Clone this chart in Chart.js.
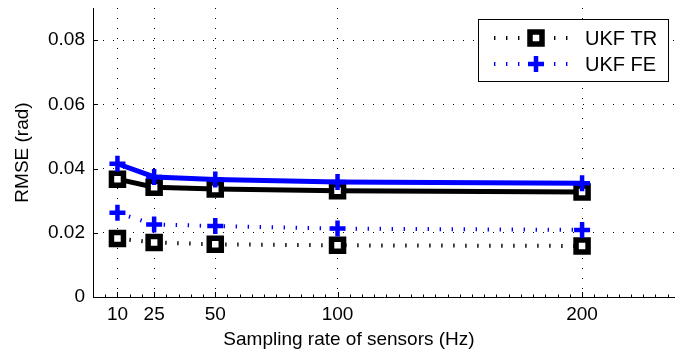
<!DOCTYPE html>
<html>
<head>
<meta charset="utf-8">
<script src="https://cdn.jsdelivr.net/npm/chart.js@4/dist/chart.umd.min.js"></script>
<style>
html,body{margin:0;padding:0;background:#fff;}
#wrap{width:675px;height:360px;}
</style>
</head>
<body>
<div id="wrap"><canvas id="c" width="675" height="360"></canvas></div>
<script>
const rates = [10, 25, 50, 100, 200];
const xTickLabels = [10, 25, 50, 100, 200];
const yTickValues = [0, 0.02, 0.04, 0.06, 0.08];
const ukfTrSolid = [0.0367, 0.0342, 0.0336, 0.0331, 0.0327];
const ukfFeSolid = [0.0415, 0.0374, 0.0366, 0.0358, 0.0354];
const ukfTrDotted = [0.0182, 0.0170, 0.0164, 0.0161, 0.0159];
const ukfFeDotted = [0.0262, 0.0226, 0.0221, 0.0213, 0.0209];
const seriesNames = ['UKF TR', 'UKF FE'];

const FONT = 'Liberation Sans, Arial, sans-serif';
const FS_TICK = 19;
const FS_TITLE = 19;
const FS_LEG = 20;

function pts(vals){ return rates.map((x,i)=>({x:x, y:vals[i]})); }

const dotDash = [1.4, 10.6];

const datasets = [
  {label:'UKF FE solid', data:pts(ukfFeSolid), borderColor:'#0000ff', backgroundColor:'#0000ff', borderWidth:5,
   pointStyle:'cross', pointRadius:8, pointBorderWidth:4.5, pointBorderColor:'#0000ff', tension:0},
  {label:seriesNames[1], data:pts(ukfFeDotted), borderColor:'#0000ff', backgroundColor:'#0000ff', borderWidth:4,
   borderDash:dotDash, borderCapStyle:'butt', pointStyle:'cross', pointRadius:8, pointBorderWidth:4.5, pointBorderColor:'#0000ff', tension:0},
  {label:'UKF TR solid', data:pts(ukfTrSolid), borderColor:'#000', backgroundColor:'#fff', borderWidth:5,
   pointStyle:'rect', pointRadius:8.5, pointBorderWidth:5.5, pointBorderColor:'#000', pointBackgroundColor:'#fff', tension:0},
  {label:seriesNames[0], data:pts(ukfTrDotted), borderColor:'#000', backgroundColor:'#fff', borderWidth:4,
   borderDash:dotDash, borderCapStyle:'butt', pointStyle:'rect', pointRadius:8.5, pointBorderWidth:5.5, pointBorderColor:'#000', pointBackgroundColor:'#fff', tension:0}
];

const tickPlugin = {
  id:'ticksIn',
  beforeDatasetsDraw(chart){
    const ctx = chart.ctx, xs = chart.scales.x, ys = chart.scales.y;
    const ca = chart.chartArea;
    ctx.save();
    ctx.setLineDash([]);
    ctx.strokeStyle = '#000'; ctx.lineWidth = 1;
    ctx.beginPath();
    ctx.moveTo(ca.left + 0.5, ca.top); ctx.lineTo(ca.left + 0.5, ca.bottom + 0.5);
    ctx.lineTo(ca.right, ca.bottom + 0.5);
    for (let v = 0; v <= xs.max; v += 5) {
      const px = Math.round(xs.getPixelForValue(v)) + 0.5;
      const len = xTickLabels.includes(v) ? 5 : 2.5;
      ctx.moveTo(px, ca.bottom); ctx.lineTo(px, ca.bottom - len);
    }
    yTickValues.forEach(v => {
      const py = Math.round(ys.getPixelForValue(v)) + 0.5;
      ctx.moveTo(ca.left, py); ctx.lineTo(ca.left + 5, py);
    });
    ctx.stroke();
    ctx.restore();
  },
  afterDraw(chart){
    const ctx = chart.ctx;
    ctx.save();
    ctx.fillStyle = '#000';
    ctx.font = FS_TITLE + 'px ' + FONT;
    ctx.textAlign = 'center'; ctx.textBaseline = 'middle';
    ctx.fillText('Sampling rate of sensors (Hz)', 349, 340);
    const bx = 478.5, by = 19.5, bw = 190, bh = 62;
    ctx.fillStyle = '#fff';
    ctx.fillRect(bx, by, bw, bh);
    ctx.strokeStyle = '#000'; ctx.lineWidth = 1; ctx.setLineDash([]);
    ctx.strokeRect(bx, by, bw, bh);
    const entries = [
      {ds: chart.data.datasets[3], y: 38, name: seriesNames[0]},
      {ds: chart.data.datasets[1], y: 64, name: seriesNames[1]}
    ];
    entries.forEach(e => {
      ctx.save();
      ctx.strokeStyle = e.ds.borderColor; ctx.lineWidth = 4; ctx.lineCap = 'butt';
      ctx.setLineDash(dotDash);
      ctx.beginPath(); ctx.moveTo(494, e.y); ctx.lineTo(568, e.y); ctx.stroke();
      ctx.restore();
      ctx.setLineDash([]);
      ctx.fillStyle = e.ds.pointBackgroundColor || e.ds.borderColor;
      ctx.strokeStyle = e.ds.pointBorderColor;
      ctx.lineWidth = e.ds.pointBorderWidth;
      ctx.beginPath();
      if (e.ds.pointStyle === 'rect') {
        const s = e.ds.pointRadius * Math.SQRT1_2;
        ctx.rect(536 - s, e.y - s, 2 * s, 2 * s); ctx.fill(); ctx.stroke();
      } else {
        const r = e.ds.pointRadius;
        ctx.moveTo(536 - r, e.y); ctx.lineTo(536 + r, e.y);
        ctx.moveTo(536, e.y - r); ctx.lineTo(536, e.y + r); ctx.stroke();
      }
      ctx.fillStyle = '#000';
      ctx.font = FS_LEG + 'px ' + FONT;
      ctx.textAlign = 'left'; ctx.textBaseline = 'middle';
      ctx.fillText(e.name, 585, e.y + 1);
    });
    ctx.restore();
  }
};

function noPad(s){ s.paddingTop = 0; s.paddingBottom = 0; s.paddingLeft = 0; s.paddingRight = 0; }

new Chart(document.getElementById('c'), {
  type:'line',
  data:{datasets:datasets},
  plugins:[tickPlugin],
  options:{
    responsive:false,
    animation:false,
    layout:{autoPadding:false, padding:{top:8, right:0, left:0, bottom:0}},
    plugins:{legend:{display:false}, tooltip:{enabled:false}},
    scales:{
      x:{
        type:'linear', min:0, max:238,
        afterBuildTicks(s){ s.ticks = xTickLabels.map(v=>({value:v})); },
        afterFit(s){ s.height = 63; noPad(s); },
        grid:{color:'#000', lineWidth:1, drawTicks:false, tickLength:0},
        border:{display:false, dash:[1,9]},
        ticks:{color:'#000', font:{family:FONT, size:FS_TICK}, padding:6, maxRotation:0, autoSkip:false,
               callback:v=>String(v)},
        title:{display:false}
      },
      y:{
        type:'linear', min:0, max:0.09,
        afterBuildTicks(s){ s.ticks = yTickValues.map(v=>({value:v})); },
        afterFit(s){ s.width = 93; noPad(s); },
        grid:{color:'#000', lineWidth:1, drawTicks:false, tickLength:0},
        border:{display:false, dash:[1,9]},
        ticks:{color:'#000', font:{family:FONT, size:FS_TICK}, padding:8,
               callback:v=> v===0 ? '0' : v.toFixed(2)},
        title:{display:true, text:'RMSE (rad)', color:'#000', font:{family:FONT, size:FS_TITLE}, padding:{top:11,bottom:0}}
      }
    }
  }
});
</script>
</body>
</html>
